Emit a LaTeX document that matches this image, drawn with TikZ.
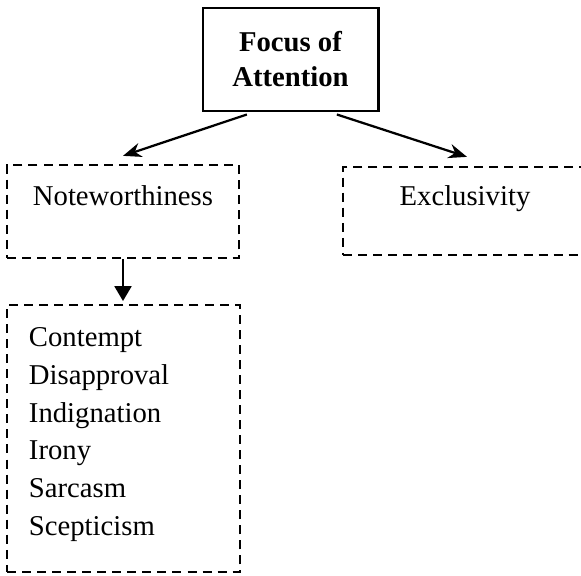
\documentclass[tikz,border=0pt]{standalone}
\usepackage{fontspec}
\setmainfont{Liberation Serif}
\usepackage{tikz}
\usetikzlibrary{arrows.meta}

\begin{document}
\begin{tikzpicture}[x=0.025cm,y=-0.025cm]
\tikzset{
    mainbox/.style={draw, line width=2.1pt, inner sep=0pt, align=center,
        minimum width=4.375cm, minimum height=2.575cm,
        font=\fontsize{20.4pt}{24.9pt}\selectfont\bfseries},
    dashbox/.style={draw, line width=1.6pt, dash pattern=on 6.4pt off 4.3pt,
        inner sep=0pt, align=center,
        font=\fontsize{20.4pt}{27pt}\selectfont},
    link/.style={line width=1.6pt, -{Stealth[length=0.46cm,width=0.36cm]}},
    downlink/.style={line width=1.6pt, -{Triangle[length=0.37cm,width=0.42cm]}}
}
\clip (0,0) rectangle (581,575);

% Boxes
\node[mainbox] (focus) at (290.5,59.5){Focus of\\Attention};
\node[dashbox, text width=5.8cm, text height=1cm, text depth=1.325cm] (note) at (123,211.5){Noteworthiness};
\node[dashbox, text width=6.1cm, text height=0.95cm, text depth=1.25cm] (excl) at (465,211){Exclusivity};
\node[dashbox, align=left, text width=4.725cm, inner xsep=0.55cm,
      minimum height=6.675cm] (list) at (123.5,438.5)
      {Contempt\\Disapproval\\Indignation\\Irony\\Sarcasm\\Scepticism\rule[-0.35cm]{0pt}{0.35cm}};

% Arrows
\draw[link] ([xshift=-1.09cm,yshift=-0.05cm]focus.south) -- ([yshift=0.2cm]note.north);
\draw[link] ([xshift=1.16cm,yshift=-0.05cm]focus.south) -- ([xshift=0.05cm,yshift=0.225cm]excl.north);
\draw[downlink] (note.south) -- ([yshift=0.07cm]note.south |- list.north);

\end{tikzpicture}
\end{document}
